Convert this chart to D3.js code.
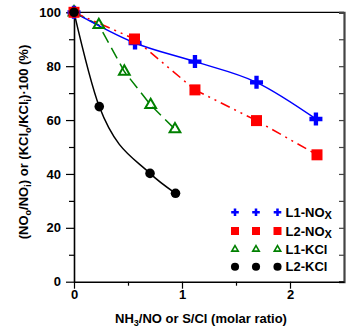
<!DOCTYPE html>
<html><head><meta charset="utf-8">
<script src="https://cdn.jsdelivr.net/npm/d3@7"></script>
<style>
body{margin:0;background:#fff;}
svg{display:block;font-family:"Liberation Sans",Arial,sans-serif;font-weight:bold;}
</style></head>
<body>
<svg id="chart" width="348" height="331"></svg>
<script>
// ---- data ----
const seriesNames = ["L1-NOx", "L2-NOx", "L1-KCl", "L2-KCl"];
const l1NOxX = [0, 0.565, 1.12, 1.69, 2.24];
const l1NOxY = [100, 88.6, 81.7, 74.0, 60.4];
const l2NOxX = [0, 0.56, 1.12, 1.69, 2.25];
const l2NOxY = [100, 90.1, 71.2, 59.8, 47.1];
const l1KClX = [0, 0.23, 0.466, 0.71, 0.935];
const l1KClY = [100, 95.3, 78.0, 65.6, 56.6];
const l2KClX = [0, 0.234, 0.704, 0.94];
const l2KClY = [100, 65.0, 40.2, 32.8];
const yMajorTicks = [0, 20, 40, 60, 80, 100];
const yMinorTicks = [10, 30, 50, 70, 90];
const xMajorTicks = [0, 1, 2];
const xMinorTicks = [0.5, 1.5];

const svg = d3.select("#chart");
const x = d3.scaleLinear().domain([0, 2.5]).range([74, 344]);
const y = d3.scaleLinear().domain([0, 100]).range([281.7, 12.3]);

const zip = (xs, ys) => xs.map((v, i) => [v, ys[i]]);
const series = [
  {name: seriesNames[2], pts: zip(l1KClX, l1KClY), color: "#008000", dash: "12,6", curve: d3.curveLinear,
   sym: d3.symbolTriangle, size: 50, lsize: 18, open: true},
  {name: seriesNames[0], pts: zip(l1NOxX, l1NOxY), color: "#0000ff", dash: null, curve: d3.curveMonotoneX,
   sym: d3.symbolCross, size: 94, lsize: 32},
  {name: seriesNames[1], pts: zip(l2NOxX, l2NOxY), color: "#ff0000", dash: "10,5,2,5,2,5", curve: d3.curveLinear,
   sym: d3.symbolSquare, size: 121, lsize: 64},
  {name: seriesNames[3], pts: zip(l2KClX, l2KClY), color: "#000000", dash: null, curve: d3.curveMonotoneX,
   sym: d3.symbolCircle, size: 72, lsize: 52}
];

// ---- axes ----
const fs = "13px";
// top line
svg.append("line").attr("x1", x(0)).attr("x2", x(2.5)).attr("y1", y(100)).attr("y2", y(100))
  .attr("stroke", "#000").attr("stroke-width", 1.2);
// right axis
const rAx = svg.append("g").attr("transform", `translate(${x(2.5)},0)`)
  .call(d3.axisRight(y).tickValues(d3.range(10, 100, 10)).tickSize(-5).tickFormat(""));
rAx.select(".domain").attr("stroke", "#444").attr("stroke-width", 2.2);
rAx.selectAll(".tick line").attr("stroke", "#444").attr("stroke-width", 1.2);

// left axis
const lMin = svg.append("g").attr("transform", `translate(${x(0)},0)`)
  .call(d3.axisLeft(y).tickValues(yMinorTicks).tickSize(5).tickFormat(""));
lMin.select(".domain").remove();
lMin.selectAll(".tick line").attr("stroke-width", 1.2);
const lAx = svg.append("g").attr("transform", `translate(${x(0)},0)`)
  .call(d3.axisLeft(y).tickValues(yMajorTicks).tickSize(8).tickPadding(5).tickSizeOuter(0));
lAx.select(".domain").attr("stroke-width", 1.6);
lAx.selectAll(".tick line").attr("stroke-width", 1.2);
lAx.selectAll("text").attr("font-size", fs).attr("font-family", "Liberation Sans, Arial").attr("font-weight", "bold");

// bottom axis
const bMin = svg.append("g").attr("transform", `translate(0,${y(0)})`)
  .call(d3.axisBottom(x).tickValues(xMinorTicks).tickSize(4).tickFormat(""));
bMin.select(".domain").remove();
bMin.selectAll(".tick line").attr("stroke-width", 1.2);
const bAx = svg.append("g").attr("transform", `translate(0,${y(0)})`)
  .call(d3.axisBottom(x).tickValues(xMajorTicks).tickSize(7).tickPadding(1).tickSizeOuter(0).tickFormat(d3.format("d")));
bAx.select(".domain").attr("stroke-width", 1.6);
bAx.selectAll(".tick line").attr("stroke-width", 1.2);
bAx.selectAll("text").attr("font-size", fs).attr("font-family", "Liberation Sans, Arial").attr("font-weight", "bold");

// axis titles
const xt = svg.append("text").attr("x", 201).attr("y", 323).attr("text-anchor", "middle").attr("font-size", fs);
xt.append("tspan").text("NH");
xt.append("tspan").text("3").attr("font-size", "9px").attr("dy", 3);
xt.append("tspan").text("/NO or S/Cl (molar ratio)").attr("dy", -3);

const yt = svg.append("text").attr("transform", "translate(28,142) rotate(-90)").attr("text-anchor", "middle").attr("font-size", fs);
const ylab = [["(NO", 0], ["o", 1], ["/NO", 0], ["i", 1], [") or (KCl", 0], ["o", 1], ["/KCl", 0], ["i", 1], [")\u00b7100 (%)", 0]];
let prevSub = 0;
ylab.forEach(([t, sub]) => {
  const ts = yt.append("tspan").text(t);
  if (sub) ts.attr("font-size", "9px");
  const dy = (sub ? 3 : 0) - (prevSub ? 3 : 0);
  if (dy) ts.attr("dy", dy);
  prevSub = sub;
});

// ---- lines ----
series.forEach(s => {
  const line = d3.line().x(d => x(d[0])).y(d => y(d[1])).curve(s.curve);
  svg.append("path").datum(s.pts).attr("d", line).attr("fill", "none")
    .attr("stroke", s.color).attr("stroke-width", 1.5)
    .attr("stroke-dasharray", s.dash);
});
// ---- markers ----
series.forEach(s => {
  svg.append("g").selectAll("path").data(s.pts).join("path")
    .attr("transform", d => `translate(${x(d[0])},${y(d[1])})`)
    .attr("d", d3.symbol().type(s.sym).size(s.size))
    .attr("fill", s.open ? "none" : s.color)
    .attr("stroke", s.open ? s.color : "none")
    .attr("stroke-width", 2);
});

// ---- legend ----
const legOrder = [series[1], series[2], series[0], series[3]];
const legRowY = [212.3, 231, 249.3, 266.7];
const legSymX = [235, 256, 277.5];
legOrder.forEach((s, i) => {
  const g = svg.append("g");
  legSymX.forEach(sx => {
    g.append("path").attr("transform", `translate(${sx},${legRowY[i]})`)
      .attr("d", d3.symbol().type(s.sym).size(s.lsize))
      .attr("fill", s.open ? "none" : s.color)
      .attr("stroke", s.open ? s.color : "none").attr("stroke-width", 1.6);
  });
  const t = g.append("text").attr("x", 285.5).attr("y", legRowY[i] + 4.7).attr("font-size", fs);
  if (s.name.endsWith("NOx")) {
    t.append("tspan").text(s.name.slice(0, -1));
    t.append("tspan").text("X").attr("font-size", "11px").attr("dy", 2);
  } else {
    t.text(s.name);
  }
});
</script>
</body></html>
